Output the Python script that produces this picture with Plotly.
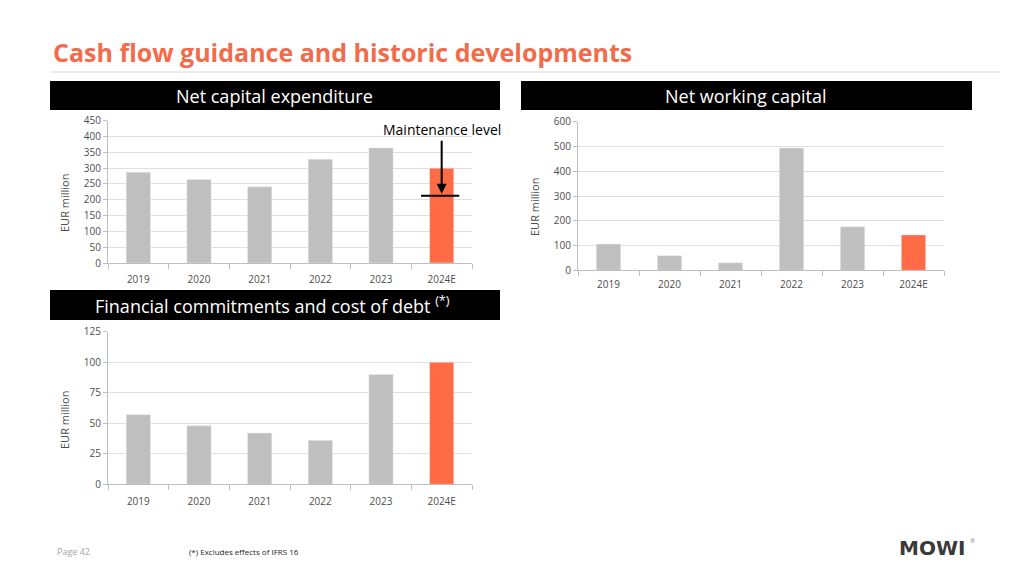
import plotly.graph_objects as go

categories = ["2019", "2020", "2021", "2022", "2023", "2024E"]
capex = [287, 264, 241, 328, 364, 300]
maintenance_level = 213
nwc = [106, 59, 30, 494, 176, 143]
fin_cost = [57, 48, 42, 36, 90, 100]

GRAY = "#BFBFBF"
ORANGE = "#FF6B45"
TITLE_ORANGE = "#F26B4B"
W, H = 1024, 576


def colors(n):
    return [GRAY] * (n - 1) + [ORANGE]


def px_x(p):
    return p / W


def px_y(p):
    return 1 - p / H


fig = go.Figure()
fig.add_trace(go.Bar(x=categories, y=capex, marker_color=colors(6), width=0.4,
                     xaxis="x", yaxis="y", hoverinfo="x+y"))
fig.add_trace(go.Bar(x=categories, y=nwc, marker_color=colors(6), width=0.4,
                     xaxis="x2", yaxis="y2", hoverinfo="x+y"))
fig.add_trace(go.Bar(x=categories, y=fin_cost, marker_color=colors(6), width=0.4,
                     xaxis="x3", yaxis="y3", hoverinfo="x+y"))

tickfont = dict(family="Open Sans", size=10, color="#4D4D4D")
xrange = [-0.5, len(categories) - 0.5]
xcommon = dict(type="category", showline=True, linecolor="#BFBFBF", linewidth=1,
               ticks="outside", tickson="boundaries", ticklen=5, tickcolor="#BFBFBF",
               tickfont=tickfont, showgrid=False, fixedrange=True, automargin=False,
               range=xrange)
ycommon = dict(showline=True, linecolor="#BFBFBF", linewidth=1, ticks="outside",
               ticklen=4, tickcolor="#BFBFBF", gridcolor="#E0E0E0", gridwidth=1,
               tickfont=tickfont, zeroline=False, fixedrange=True, automargin=False)

fig.update_layout(
    width=W, height=H, margin=dict(l=0, r=0, t=0, b=0, pad=0, autoexpand=False),
    paper_bgcolor="white", plot_bgcolor="white", showlegend=False,
    xaxis=dict(xcommon, domain=[px_x(108), px_x(472)], anchor="y", ticklabelstandoff=7),
    yaxis=dict(ycommon, domain=[px_y(263), px_y(120.7)], range=[0, 450], dtick=50, anchor="x"),
    xaxis2=dict(xcommon, domain=[px_x(578), px_x(944)], anchor="y2", ticklabelstandoff=5),
    yaxis2=dict(ycommon, domain=[px_y(270.3), px_y(121.7)], range=[0, 600], dtick=100, anchor="x2"),
    xaxis3=dict(xcommon, domain=[px_x(108), px_x(472)], anchor="y3", ticklabelstandoff=8),
    yaxis3=dict(ycommon, domain=[px_y(484.3), px_y(331.7)], range=[0, 125], dtick=25, anchor="x3"),
)

shapes = [
    dict(type="line", xref="paper", yref="paper", x0=px_x(50), x1=px_x(1000),
         y0=px_y(72), y1=px_y(72), line=dict(color="#D9D9D9", width=1)),
    dict(type="rect", xref="paper", yref="paper", x0=px_x(50), x1=px_x(500),
         y0=px_y(110), y1=px_y(81), fillcolor="black", line=dict(width=0), layer="below"),
    dict(type="rect", xref="paper", yref="paper", x0=px_x(521), x1=px_x(972),
         y0=px_y(110), y1=px_y(81), fillcolor="black", line=dict(width=0), layer="below"),
    dict(type="rect", xref="paper", yref="paper", x0=px_x(50), x1=px_x(500),
         y0=px_y(320), y1=px_y(290), fillcolor="black", line=dict(width=0), layer="below"),
    dict(type="line", xref="x", yref="y", x0=4.66, x1=5.29,
         y0=maintenance_level, y1=maintenance_level, line=dict(color="black", width=2)),
]
fig.update_layout(shapes=shapes)

hfont = dict(family="Open Sans", size=18, color="white")
yfont = dict(family="Open Sans", size=11, color="#4D4D4D")
annotations = [
    dict(text="<b>Cash flow guidance and historic developments</b>", xref="paper", yref="paper",
         x=px_x(51), y=px_y(52), xanchor="left", yanchor="middle", showarrow=False,
         font=dict(family="Open Sans", size=25, color=TITLE_ORANGE)),
    dict(text="Net capital expenditure", xref="paper", yref="paper", x=px_x(274), y=px_y(96),
         xanchor="center", yanchor="middle", showarrow=False, font=hfont),
    dict(text="Net working capital", xref="paper", yref="paper", x=px_x(746), y=px_y(96),
         xanchor="center", yanchor="middle", showarrow=False, font=hfont),
    dict(text="Financial commitments and cost of debt <sup>(*)</sup>", xref="paper", yref="paper",
         x=px_x(272), y=px_y(305), xanchor="center", yanchor="middle", showarrow=False, font=hfont),
    dict(text="EUR million", xref="paper", yref="paper", x=px_x(64), y=px_y(203), textangle=-90,
         xanchor="center", yanchor="middle", showarrow=False, font=yfont),
    dict(text="EUR million", xref="paper", yref="paper", x=px_x(534), y=px_y(207), textangle=-90,
         xanchor="center", yanchor="middle", showarrow=False, font=yfont),
    dict(text="EUR million", xref="paper", yref="paper", x=px_x(64), y=px_y(420), textangle=-90,
         xanchor="center", yanchor="middle", showarrow=False, font=yfont),
    dict(text="Maintenance level", xref="x", yref="paper", x=5, y=px_y(129),
         xanchor="center", yanchor="middle", showarrow=False,
         font=dict(family="Open Sans", size=14, color="black")),
    dict(text="", xref="x", yref="y", x=5, y=maintenance_level + 6, axref="x", ayref="y",
         ax=5, ay=391, showarrow=True, arrowhead=2, arrowsize=1, arrowwidth=2, arrowcolor="black"),
    dict(text="Page 42", xref="paper", yref="paper", x=px_x(55), y=px_y(551),
         xanchor="left", yanchor="middle", showarrow=False,
         font=dict(family="Open Sans", size=9, color="#A6A6A6")),
    dict(text="(*) Excludes effects of IFRS 16", xref="paper", yref="paper", x=px_x(187), y=px_y(551),
         xanchor="left", yanchor="middle", showarrow=False,
         font=dict(family="Open Sans", size=8, color="#262626")),
    dict(text="<b>MOWI</b>", xref="paper", yref="paper", x=px_x(897), y=px_y(548),
         xanchor="left", yanchor="middle", showarrow=False,
         font=dict(family="DejaVu Sans", size=20, color="#3A3A3A")),
    dict(text="®", xref="paper", yref="paper", x=px_x(968), y=px_y(541),
         xanchor="left", yanchor="middle", showarrow=False,
         font=dict(family="Open Sans", size=6, color="#808080")),
]
fig.update_layout(annotations=annotations)

post = (
    "document.documentElement.style.margin='0';"
    "document.documentElement.style.overflow='hidden';"
    "document.body.style.margin='0';"
    "document.body.style.overflow='hidden';"
)
fig.write_html("out.html", config={"displayModeBar": False}, post_script=post)
